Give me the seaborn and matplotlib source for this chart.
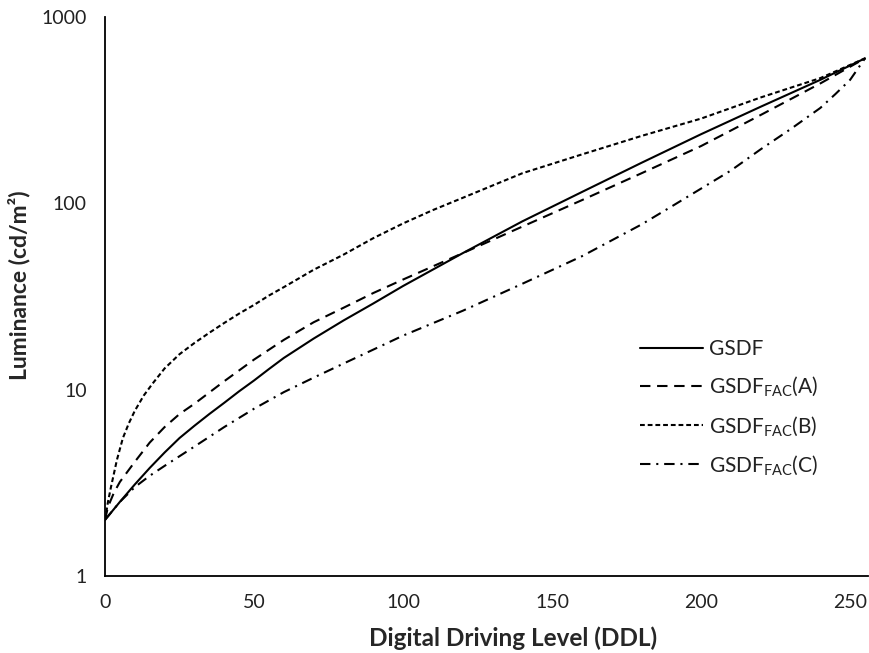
import matplotlib
matplotlib.use("Agg")
import matplotlib.pyplot as plt
import seaborn as sns
import pandas as pd

sns.set_style("white")
plt.rcParams["font.family"] = ["Lato", "DejaVu Sans"]
plt.rcParams["mathtext.fontset"] = "custom"
plt.rcParams["mathtext.rm"] = "Lato"
plt.rcParams["mathtext.it"] = "Lato:italic"
plt.rcParams["mathtext.bf"] = "Lato:bold"

# Luminance (cd/m²) versus digital driving level for each display function
gsdf_ddl = [0, 5, 10, 15, 20, 25, 30, 35, 40, 45, 50, 55, 60, 70, 80, 90, 100,
            120, 140, 160, 180, 200, 220, 240, 255]
gsdf_lum = [2.0, 2.5, 3.1, 3.8, 4.6, 5.5, 6.4, 7.4, 8.5, 9.8, 11.2, 12.9, 14.8,
            18.8, 23.5, 29, 36, 54, 80, 115, 165, 235, 330, 460, 600]

fac_a_ddl = [0, 1, 3, 5, 10, 15, 20, 25, 30, 40, 50, 60, 70, 80, 90, 100,
             120, 140, 160, 180, 200, 220, 240, 255]
fac_a_lum = [2.0, 2.35, 2.8, 3.2, 4.1, 5.2, 6.3, 7.4, 8.4, 11.1, 14.5, 18.5, 23,
             27.5, 33, 39, 54, 75, 104, 145, 203, 298, 440, 600]

fac_b_ddl = [0, 1, 2, 4, 6, 8, 10, 13, 16, 20, 25, 30, 35, 40, 45, 50, 55, 60, 70,
             80, 90, 100, 110, 120, 140, 160, 180, 200, 220, 240, 255]
fac_b_lum = [2.0, 2.5, 3.0, 4.2, 5.5, 6.6, 7.7, 9.3, 10.8, 13.0, 15.5, 17.8, 20.2,
             22.8, 25.6, 28.5, 32, 35.5, 44, 53, 65, 78, 92, 107, 145, 183, 230,
             285, 370, 470, 600]

fac_c_ddl = [0, 5, 10, 15, 20, 30, 40, 50, 60, 70, 80, 90, 100, 120, 140, 160,
             180, 190, 200, 210, 220, 230, 240, 245, 250, 255]
fac_c_lum = [2.0, 2.5, 3.0, 3.45, 3.9, 4.95, 6.3, 7.9, 9.7, 11.6, 13.8, 16.4, 19.5,
             26.5, 37, 52, 77, 96, 120, 150, 195, 250, 325, 385, 460, 600]

labels = ["GSDF",
          r"GSDF$_{\mathrm{FAC}}$(A)",
          r"GSDF$_{\mathrm{FAC}}$(B)",
          r"GSDF$_{\mathrm{FAC}}$(C)"]
x_ticks = [0, 50, 100, 150, 200, 250]
y_ticks = [1, 10, 100, 1000]

series = [
    (gsdf_ddl, gsdf_lum, labels[0], None),
    (fac_a_ddl, fac_a_lum, labels[1], (5.0, 3.2)),
    (fac_b_ddl, fac_b_lum, labels[2], (2.3, 1.4)),
    (fac_c_ddl, fac_c_lum, labels[3], (5.0, 2.8, 1.0, 2.8)),
]

fig = plt.figure(figsize=(8.69, 6.53), dpi=100)
ax = fig.add_axes([105 / 869, 1 - 576 / 653, 763 / 869, 559 / 653])

for ddl, lum, name, dash in series:
    df = pd.DataFrame({"DDL": ddl, "Luminance": lum})
    sns.lineplot(data=df, x="DDL", y="Luminance", ax=ax, color="black",
                 linewidth=1.5, label=name, estimator=None, sort=False)
    ln = ax.get_lines()[-1]
    if dash is not None:
        ln.set_dashes(dash)
        ln.set_dash_capstyle("butt")

ax.set_yscale("log")
ax.set_xlim(0, 256)
ax.set_ylim(1, 1000)
ax.set_xticks(x_ticks)
ax.set_xticklabels([str(t) for t in x_ticks])
ax.set_yticks(y_ticks)
ax.set_yticklabels([str(t) for t in y_ticks])
ax.minorticks_off()
ax.tick_params(axis="both", direction="in", length=6, width=1.2, colors="black",
               labelsize=14, labelcolor="#222222")
ax.tick_params(axis="x", pad=13)
ax.tick_params(axis="y", pad=13)

for side in ["top", "right"]:
    ax.spines[side].set_visible(False)
for side in ["left", "bottom"]:
    ax.spines[side].set_color("black")
    ax.spines[side].set_linewidth(1.3)

ax.set_xlabel("Digital Driving Level (DDL)", fontsize=17.5, fontweight="bold")
ax.set_ylabel("Luminance (cd/m²)", fontsize=16.5, fontweight="bold")
ax.xaxis.set_label_coords((513 - 105) / 763, -(638 - 576) / 559, transform=ax.transAxes)
ax.yaxis.set_label_coords(-(105 - 19) / 763, (576 - 285) / 559, transform=ax.transAxes)
ax.xaxis.label.set_va("center")
ax.yaxis.label.set_va("center")

leg = ax.legend(loc="center left", bbox_to_anchor=(640 / 869, 1 - 408 / 653),
                bbox_transform=fig.transFigure, frameon=False, fontsize=15,
                handlelength=3.0, handletextpad=0.3, labelspacing=0.75,
                borderaxespad=0, borderpad=0)
for t in leg.get_texts():
    t.set_color("#222222")

ax.grid(False)
fig.savefig("out.png", dpi=100, facecolor="white")
